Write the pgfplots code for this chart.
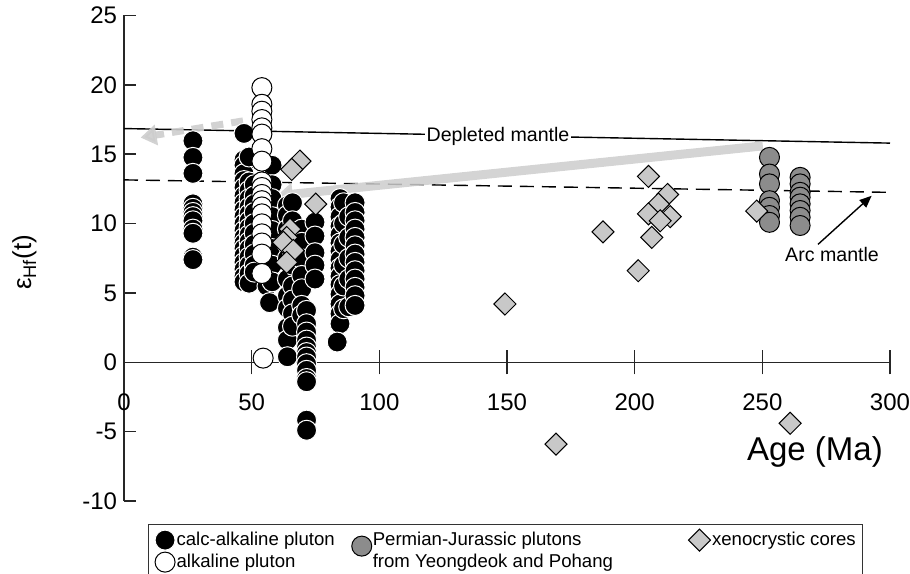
\documentclass[border=0pt]{standalone}
\usepackage{fontspec}
\setmainfont{Liberation Sans}
\usepackage{pgfplots}
\pgfplotsset{compat=1.18}
\usetikzlibrary{arrows.meta}
\definecolor{permgray}{RGB}{140,140,140}
\definecolor{xenogray}{RGB}{200,200,200}
\definecolor{arrowgray}{RGB}{205,205,205}
\begin{document}
\begin{tikzpicture}
\useasboundingbox (-62bp,-36.5bp) rectangle (393bp,250.5bp);
\begin{axis}[
  at={(0,0)}, anchor=south west, scale only axis,
  width=383bp, height=242.75bp,
  xmin=0, xmax=300, ymin=-10, ymax=25,
  axis x line=middle, axis y line=left,
  axis line style={-, line width=0.75bp, black!85},
  hide obscured x ticks=false, hide obscured y ticks=false,
  xtick={0,50,...,300}, ytick={-10,-5,...,25},
  extra x ticks={0,50,...,300}, extra x tick labels={},
  extra x tick style={every major x tick/.append style={yshift=-6bp}},
  tick align=inside, major tick length=6bp,
  tick style={line width=0.75bp, black!85},
  /pgf/number format/assume math mode=true,
  ticklabel style={font=\fontsize{12bp}{14bp}\selectfont},
  xticklabel style={yshift=-12bp},
  clip=false,
  xlabel={Age (Ma)},
  xlabel style={at={(axis description cs:0.902,0.1009)}, anchor=center, font=\fontsize{16.5bp}{18bp}\selectfont},
  ylabel={ε\textsubscript{Hf}(t)},
  ylabel style={at={(axis description cs:-0.130,0.492)}, anchor=center, font=\fontsize{13bp}{15bp}\selectfont},
  legend columns=3,
  legend cell align=left,
  legend style={at={(0.0313,-0.0474)}, anchor=north west, draw=black!80, line width=0.6bp,
    font=\fontsize{9.3bp}{10bp}\selectfont, inner xsep=3bp, inner ysep=2bp,
    nodes={inner sep=0.5bp, text height=6.8bp, text depth=1.7bp},
    /tikz/column 2/.style={column sep=8bp},
    /tikz/column 4/.style={column sep=37bp}},
]
% model lines
\addplot[black, line width=0.7bp, forget plot] coordinates {(0,16.85) (300,15.8)};
\addplot[black, line width=0.7bp, dash pattern=on 7bp off 4bp, forget plot] coordinates {(0,13.15) (300,12.25)};
\node[fill=white, inner sep=1bp, font=\fontsize{9.8bp}{11bp}\selectfont] at (axis cs:146.5,16.3) {Depleted mantle};

% calc-alkaline pluton
\addplot[only marks, mark=*, mark size=5bp, mark options={fill=black, draw=white, line width=0.5bp}, forget plot] coordinates {
(27,15.97) (27,14.77) (27,13.62) (27,11.42) (27,11.1) (27,10.8) (27,10.5) (27,10.2) (27,9.6) (27,9.3) (27,7.58) (27,7.4)
(47,16.5) (47,14.6) (47,14.2) (47,13.6) (47,13.1) (47,12.6) (47,12.0) (47,11.5) (47,11.0) (47,10.5) (47,10.0) (47,9.5) (47,9.0) (47,8.6) (47,8.2) (47,7.7) (47,7.2) (47,6.7) (47,6.2) (47,5.8)
(49,14.8) (49,13.0) (49,12.4) (49,11.8) (49,11.2) (49,10.7) (49,10.2) (49,9.7) (49,9.2) (49,8.7) (49,8.2) (49,7.6) (49,7.0) (49,6.4) (49,5.7)
(51,12.8) (51,12.0) (51,11.4) (51,10.8) (51,10.0) (51,9.3) (51,8.5) (51,7.8) (51,7.0) (51,6.5)
(56,14.3) (56,12.3) (56,11.0) (56,9.5) (56,8.0) (56,6.8) (56,5.5)
(58,14.2) (58,12.8) (58,11.8) (58,10.5) (58,9.5) (58,8.2) (58,7.0) (58,5.8) (57,4.3)
(64,11.3) (64,10.6) (64,9.6) (64,8.5) (64,7.5) (64,6.0) (64,4.8) (64,3.9) (64,2.5) (64,1.6) (64,0.4)
(66,11.5) (66,10.2) (66,9.0) (66,8.0) (66,7.0) (66,5.5) (66,4.5) (66,3.5) (66,2.6)
(69.6,9.6) (69.6,8.65) (69.6,7.46) (69.6,6.26) (69.6,5.3) (69.6,4.1) (69.6,3.4)
(71.5,3.74) (71.5,2.78) (71.5,2.18) (71.5,1.6) (71.5,1.1) (71.5,0.7) (71.5,0.38) (71.5,-0.1) (71.5,-0.58) (71.5,-1.17) (71.5,-1.4) (71.5,-4.17) (71.5,-4.9)
(74.8,10.1) (74.8,9.1) (74.8,7.9) (74.8,7.0) (74.8,6.0)
(84.6,11.8) (84.6,11.2) (84.6,10.5) (84.6,9.8) (84.6,9.2) (84.6,8.6) (84.6,8.0) (84.6,7.4) (84.6,6.8) (84.6,6.2) (84.6,5.6) (84.6,4.9) (84.6,4.2) (84.6,3.5) (84.6,2.78) (83.5,1.46)
(86,11.5) (86,10.0) (86,8.5) (86,7.0) (86,5.5) (86,3.86)
(88,10.5) (88,9.0) (88,7.5) (88,6.0) (88,4.0)
(90.5,11.5) (90.5,10.8) (90.5,10.2) (90.5,9.6) (90.5,9.0) (90.5,8.4) (90.5,7.8) (90.5,7.2) (90.5,6.6) (90.5,6.0) (90.5,5.4) (90.5,4.8) (90.5,4.1)
};

% alkaline pluton
\addplot[only marks, mark=*, mark size=5bp, mark options={fill=white, draw=black, line width=0.5bp}, forget plot] coordinates {
(54,19.8) (54,18.6) (54,18.1) (54,17.5) (54,16.9) (54,16.45) (54,15.4) (54,14.5) (54,13.0) (54,12.6) (54,12.1) (54,11.65) (54,11.2) (54,10.7) (54,9.98) (54,9.26) (54,8.6) (54,7.8) (54,6.4) (54.5,0.3)
};

% Permian-Jurassic plutons
\addplot[only marks, mark=*, mark size=5bp, mark options={fill=permgray, draw=black, line width=0.5bp}, forget plot] coordinates {
(252.8,14.77) (252.8,13.57) (252.8,12.86) (252.8,11.65) (252.8,11.17) (252.8,10.58) (252.8,10.09)
(264.8,13.33) (264.8,12.86) (264.8,12.25) (264.8,11.9) (264.8,11.42) (264.8,10.94) (264.8,10.45) (264.8,9.86)
};

% xenocrystic cores
\addplot[only marks, mark=square*, mark size=3.9bp, mark options={rotate=45, fill=xenogray, draw=black, line width=0.5bp}, forget plot] coordinates {
(68.9,14.5) (65.7,13.9) (75.1,11.4) (65,9.6) (63.7,9.0) (62.4,8.65) (66.3,8.06) (63.7,7.2)
(149.2,4.2) (169.2,-5.9) (187.6,9.4) (201.4,6.6) (205.4,13.4) (212.9,12.1) (209.3,11.4)
(205.4,10.7) (213.9,10.5) (210,10.2) (206.7,9.0) (247.8,10.9) (260.9,-4.4)
};

% arrows
\draw[arrowgray, line width=4.5bp, opacity=0.85, -{Triangle[width=11bp,length=8bp]}] (axis cs:250.2,15.6) -- (axis cs:59.8,12.0);
\draw[arrowgray, line width=3.5bp, opacity=0.9, dash pattern=on 6bp off 4bp, -{Triangle[width=10bp,length=8bp]}] (axis cs:46.6,17.4) -- (axis cs:6.5,16.2);
\draw[black, line width=0.7bp, -{Triangle[width=5bp,length=6bp]}] (axis cs:271.8,8.5) -- (axis cs:292.8,12.0);
\node[font=\fontsize{9.8bp}{11bp}\selectfont] at (axis cs:277.3,7.8) {Arc mantle};

% legend
\addlegendimage{legend image code/.code={\draw[fill=black, draw=white, line width=0.5bp] (0bp,0bp) circle (5bp);}}
\addlegendentry{calc-alkaline pluton}
\addlegendimage{legend image code/.code={\path[draw=none, fill=none] (-5bp,-4bp) rectangle (5bp,4bp); \draw[overlay, fill=permgray, draw=black, line width=0.5bp] (0bp,-3bp) circle (5bp);}}
\addlegendentry{Permian-Jurassic plutons}
\addlegendimage{legend image code/.code={\draw[fill=xenogray, draw=black, line width=0.5bp] (0bp,-5.5bp) -- (5.5bp,0bp) -- (0bp,5.5bp) -- (-5.5bp,0bp) -- cycle;}}
\addlegendentry{xenocrystic cores}
\addlegendimage{legend image code/.code={\draw[fill=white, draw=black, line width=0.5bp] (0bp,0bp) circle (5bp);}}
\addlegendentry{alkaline pluton}
\addlegendimage{legend image code/.code={\path[draw=none, fill=none] (-5bp,0bp) rectangle (5bp,0bp);}}
\addlegendentry{from Yeongdeok and Pohang}
\addlegendimage{legend image code/.code={}}
\addlegendentry{}
\end{axis}
\end{tikzpicture}
\end{document}
